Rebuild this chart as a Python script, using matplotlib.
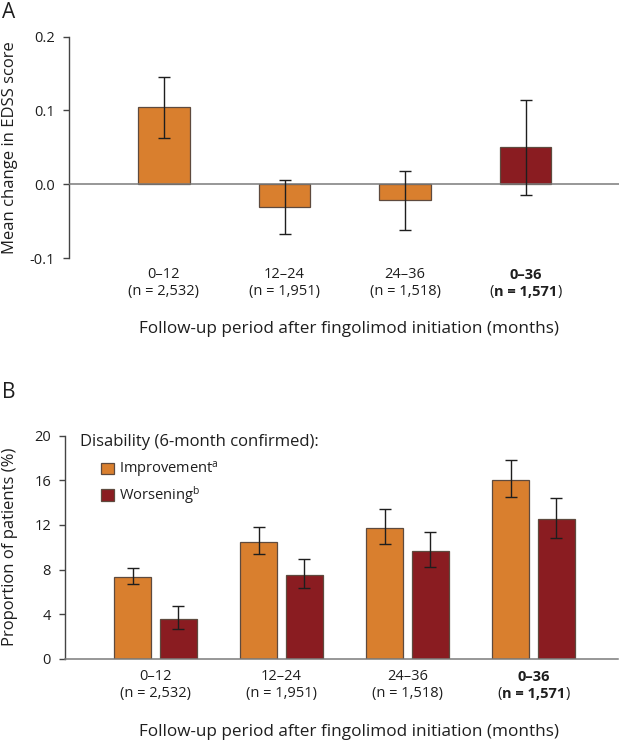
import matplotlib
matplotlib.use("Agg")
import matplotlib.pyplot as plt
from matplotlib.patches import Patch
from matplotlib.transforms import blended_transform_factory
import numpy as np

# ---------------- data ----------------
periods = ["0–12", "12–24", "24–36", "0–36"]
n_labels = ["(n = 2,532)", "(n = 1,951)", "(n = 1,518)", "(n = 1,571)"]

edss_mean = [0.104, -0.031, -0.022, 0.050]
edss_low = [0.062, -0.067, -0.062, -0.014]
edss_high = [0.145, 0.006, 0.018, 0.114]

improve = [7.3, 10.5, 11.7, 16.0]
improve_low = [6.7, 9.4, 10.3, 14.5]
improve_high = [8.1, 11.8, 13.4, 17.8]
worsen = [3.6, 7.5, 9.7, 12.5]
worsen_low = [2.7, 6.3, 8.2, 10.8]
worsen_high = [4.7, 8.9, 11.4, 14.4]

a_yticks = [-0.1, 0.0, 0.1, 0.2]
a_yticklabels = ["-0.1", "0.0", "0.1", "0.2"]
b_yticks = [0, 4, 8, 12, 16, 20]
b_yticklabels = ["0", "4", "8", "12", "16", "20"]

xlabel_text = "Follow-up period after fingolimod initiation (months)"
a_ylabel = "Mean change in EDSS score"
b_ylabel = "Proportion of patients (%)"
legend_title = "Disability (6-month confirmed):"
legend_labels = [r"Improvement$^{\mathrm{a}}$", r"Worsening$^{\mathrm{b}}$"]

# ---------------- style ----------------
plt.rcParams["font.family"] = ["Open Sans", "DejaVu Sans"]
plt.rcParams["mathtext.fontset"] = "custom"
plt.rcParams["mathtext.rm"] = "Open Sans"
plt.rcParams["mathtext.it"] = "Open Sans:italic"
plt.rcParams["mathtext.bf"] = "Open Sans:bold"

ORANGE = "#D97F2E"
DARKRED = "#8A1C21"
EDGE = "#5E4A3E"
AXIS = "#444444"
ZERO = "#7A7A7A"
ERR = "#1E1E1E"
TXT = "#1E1E1E"

FS_TICK = 10.5
FS_XLABEL = 12.3
FS_YLABEL = 12
FS_TITLE = 12
FS_LEG = 10.5

W, H = 620, 743
fig = plt.figure(figsize=(W / 100, H / 100), dpi=100)


def fy(px):
    return 1 - px / H


def fx(px):
    return px / W


def draw_xlabels(ax, xs, line1_px, line2_px):
    tr = blended_transform_factory(ax.transData, fig.transFigure)
    for i, (p, n) in enumerate(zip(periods, n_labels)):
        bold = (i == len(periods) - 1)
        ax.text(xs[i], fy(line1_px), p, transform=tr, ha="center", va="center",
                fontsize=FS_TICK, color=TXT, fontweight="bold" if bold else "normal")
        if not bold:
            ax.text(xs[i], fy(line2_px), n, transform=tr, ha="center", va="center",
                    fontsize=FS_TICK, color=TXT)
        else:
            inner = n.strip("()")
            t = ax.text(xs[i], fy(line2_px), inner, transform=tr, ha="center", va="center",
                        fontsize=FS_TICK, color=TXT, fontweight="bold")
            fig.canvas.draw()
            bb = t.get_window_extent()
            inv = fig.transFigure.inverted()
            (x0, _), (x1, _) = inv.transform([(bb.x0, 0), (bb.x1, 0)])
            fig.text(x0, fy(line2_px), "(", ha="right", va="center", fontsize=FS_TICK, color=TXT)
            fig.text(x1, fy(line2_px), ")", ha="left", va="center", fontsize=FS_TICK, color=TXT)


# ---------------- panel A ----------------
a_left, a_right, a_top, a_bot = 69, 619, 36.5, 258
axA = fig.add_axes([fx(a_left), fy(a_bot), (a_right - a_left) / W, (a_bot - a_top) / H])
xA = np.arange(len(periods))
colorsA = [ORANGE, ORANGE, ORANGE, DARKRED]
errA = [np.array(edss_mean) - np.array(edss_low), np.array(edss_high) - np.array(edss_mean)]
axA.bar(xA, edss_mean, width=0.43, color=colorsA, edgecolor=EDGE, linewidth=0.9, zorder=2)
axA.errorbar(xA, edss_mean, yerr=errA, fmt="none", ecolor=ERR, elinewidth=1.0,
             capsize=4.5, capthick=1.0, zorder=4)
axA.axhline(0, color=ZERO, linewidth=1.1, zorder=3)
spacingA = 120.5
axA.set_xlim((a_left - 164) / spacingA, (a_right - 164) / spacingA)
axA.set_ylim(-0.1, 0.2)
axA.set_yticks(a_yticks)
axA.set_yticklabels(a_yticklabels, fontsize=FS_TICK, color=TXT)
axA.set_xticks([])
for s in ["top", "right", "bottom"]:
    axA.spines[s].set_visible(False)
axA.spines["left"].set_color(AXIS)
axA.spines["left"].set_linewidth(1.0)
axA.tick_params(axis="y", direction="out", length=4, width=1.0, color=AXIS, pad=6)
axA.set_ylabel(a_ylabel, fontsize=FS_YLABEL, color=TXT)
axA.yaxis.set_label_coords((18 - a_left) / (a_right - a_left), 0.5)
axA.patch.set_alpha(0)
draw_xlabels(axA, xA, 275, 291.5)
fig.text(fx(349), fy(329), xlabel_text, ha="center", va="center", fontsize=FS_XLABEL, color=TXT)
fig.text(fx(2), fy(12), "A", ha="left", va="center", fontsize=15, color=TXT)

# ---------------- panel B ----------------
b_left, b_right, b_top, b_bot = 65, 618, 435.7, 658.7
axB = fig.add_axes([fx(b_left), fy(b_bot), (b_right - b_left) / W, (b_bot - b_top) / H])
xB = np.arange(len(periods))
spacingB = 126.0
off = 22.75 / spacingB
bw = 37 / spacingB
errI = [np.array(improve) - np.array(improve_low), np.array(improve_high) - np.array(improve)]
errW = [np.array(worsen) - np.array(worsen_low), np.array(worsen_high) - np.array(worsen)]
axB.bar(xB - off, improve, width=bw, color=ORANGE, edgecolor=EDGE, linewidth=0.9, zorder=2)
axB.bar(xB + off, worsen, width=bw, color=DARKRED, edgecolor=EDGE, linewidth=0.9, zorder=2)
axB.errorbar(xB - off, improve, yerr=errI, fmt="none", ecolor=ERR, elinewidth=1.0,
             capsize=4.5, capthick=1.0, zorder=4)
axB.errorbar(xB + off, worsen, yerr=errW, fmt="none", ecolor=ERR, elinewidth=1.0,
             capsize=4.5, capthick=1.0, zorder=4)
axB.set_xlim((b_left - 155.5) / spacingB, (b_right - 155.5) / spacingB)
axB.set_ylim(0, 20)
axB.set_yticks(b_yticks)
axB.set_yticklabels(b_yticklabels, fontsize=FS_TICK, color=TXT)
axB.set_xticks([])
for s in ["top", "right"]:
    axB.spines[s].set_visible(False)
axB.spines["left"].set_color(AXIS)
axB.spines["bottom"].set_color(ZERO)
axB.spines["left"].set_linewidth(1.0)
axB.spines["bottom"].set_linewidth(1.1)
axB.spines["bottom"].set_zorder(3)
axB.tick_params(axis="y", direction="out", length=4, width=1.0, color=AXIS, pad=6)
axB.set_ylabel(b_ylabel, fontsize=FS_YLABEL, color=TXT)
axB.yaxis.set_label_coords((18 - b_left) / (b_right - b_left), 0.5)
axB.patch.set_alpha(0)

# legend
fig.text(fx(80), fy(441.7), legend_title, ha="left", va="center", fontsize=FS_TITLE, color=TXT)
handles = [Patch(facecolor=ORANGE, edgecolor=EDGE, linewidth=0.9),
           Patch(facecolor=DARKRED, edgecolor=EDGE, linewidth=0.9)]
axB.legend(handles, legend_labels, loc="upper left",
           bbox_to_anchor=(fx(101.5), fy(460)), bbox_transform=fig.transFigure,
           frameon=False, fontsize=FS_LEG, handlelength=0.87, handleheight=0.87,
           handletextpad=0.35, labelspacing=0.3, borderpad=0, borderaxespad=0,
           labelcolor=TXT)

draw_xlabels(axB, xB, 676.7, 694)
fig.text(fx(349), fy(732), xlabel_text, ha="center", va="center", fontsize=FS_XLABEL, color=TXT)
fig.text(fx(2), fy(392), "B", ha="left", va="center", fontsize=15, color=TXT)

fig.savefig("out.png", dpi=100)
